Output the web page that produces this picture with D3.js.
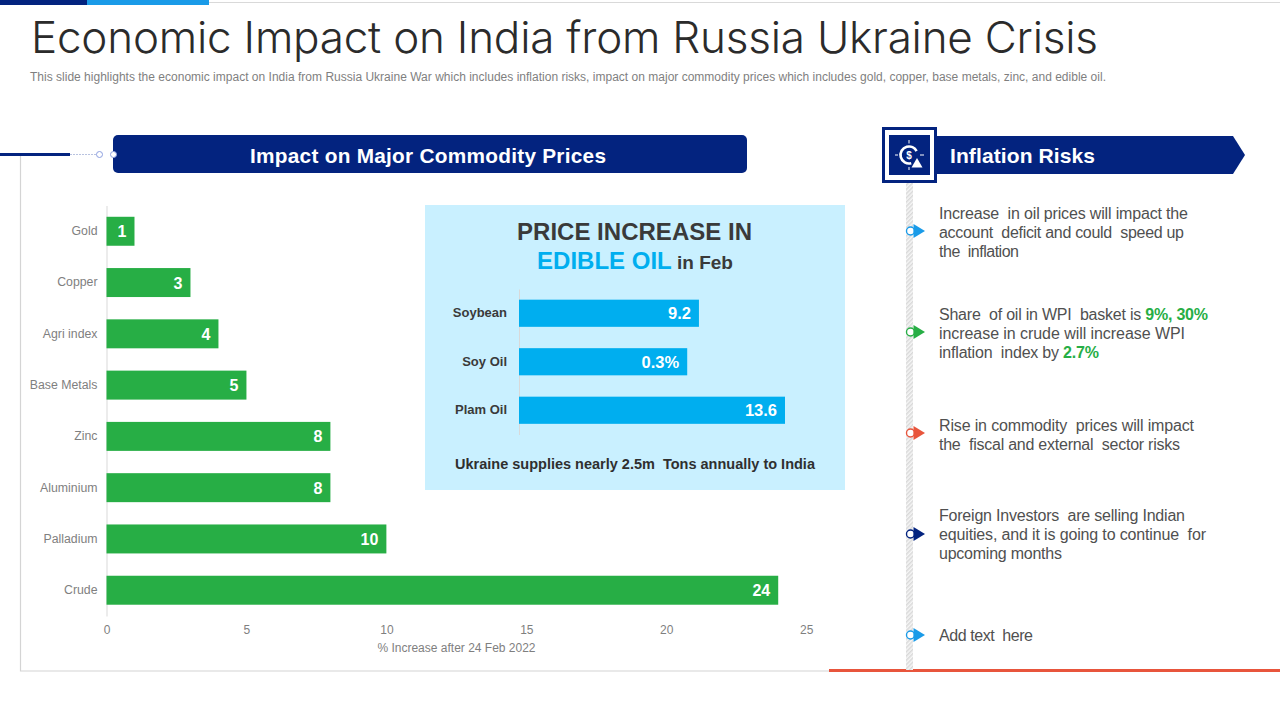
<!DOCTYPE html>
<html>
<head>
<meta charset="utf-8">
<script src="https://cdn.jsdelivr.net/npm/d3@7"></script>
<style>
  html, body { margin: 0; padding: 0; background: #fff; }
  svg { display: block; }
  text { font-family: "Liberation Sans", Arial, sans-serif; }
</style>
</head>
<body>
<svg id="canvas" width="1280" height="720"></svg>
<script>
// data
var commodities = ['Gold', 'Copper', 'Agri index', 'Base Metals', 'Zinc', 'Aluminium', 'Palladium', 'Crude'];
var commodity_values = [1, 3, 4, 5, 8, 8, 10, 24];
var x_ticks = [0, 5, 10, 15, 20, 25];
var oils = ['Soybean', 'Soy Oil', 'Plam Oil'];
var oil_values = [9.2, 8.6, 13.6];
var oil_labels = ['9.2', '0.3%', '13.6'];

var navy = '#03237f', blue = '#1a9be8', green = '#27ae45', red = '#e8553c', sky = '#00aeef';

var svg = d3.select('#canvas');

function addText(x, y, str, size, fill, weight, anchor){
  return svg.append('text').attr('x', x).attr('y', y).attr('font-size', size)
    .attr('fill', fill).attr('font-weight', weight || 400).attr('text-anchor', anchor || 'start').text(str);
}

// ************************************************************************************** //
// Slide furniture

svg.append('rect').attr('x', 0).attr('y', 0).attr('width', 87).attr('height', 5).attr('fill', navy);
svg.append('rect').attr('x', 87).attr('y', 0).attr('width', 122).attr('height', 5).attr('fill', blue);
svg.append('line').attr('x1', 209).attr('x2', 1280).attr('y1', 2.5).attr('y2', 2.5).attr('stroke', '#d9d9d9');

svg.append('text').attr('x', 31).attr('y', 53).attr('font-size', 44).attr('fill', '#2b2b2b')
  .attr('font-weight', 300).style('font-family', 'Inter')
  .attr('textLength', 1067).attr('lengthAdjust', 'spacing')
  .text('Economic Impact on India from Russia Ukraine Crisis');
addText(30, 81, 'This slide highlights the economic impact on India from Russia Ukraine War which includes inflation risks, impact on major commodity prices which includes gold, copper, base metals, zinc, and edible oil.', 12, '#7f7f7f')
  .attr('textLength', 1076).attr('lengthAdjust', 'spacing');

// frame round the left chart
svg.append('path').attr('d', 'M20.5,155V671H829').attr('fill', 'none').attr('stroke', '#d4d4d4').attr('stroke-width', 1.2);
svg.append('rect').attr('x', 829).attr('y', 669).attr('width', 451).attr('height', 3).attr('fill', red);

svg.append('rect').attr('x', 0).attr('y', 153).attr('width', 70).attr('height', 3).attr('fill', navy);
svg.append('line').attr('x1', 70).attr('x2', 96).attr('y1', 154.5).attr('y2', 154.5).attr('stroke', '#b9c3e0').attr('stroke-dasharray', '2,1');
svg.append('circle').attr('cx', 99.5).attr('cy', 154.5).attr('r', 3).attr('fill', '#fff').attr('stroke', '#8d9fe0');

// headers
svg.append('rect').attr('x', 113).attr('y', 135).attr('width', 634).attr('height', 38).attr('rx', 5).attr('fill', navy);
svg.append('circle').attr('cx', 113.5).attr('cy', 154.5).attr('r', 3).attr('fill', '#fff').attr('stroke', '#8d9fe0');
addText(428, 163, 'Impact on Major Commodity Prices', 20.8, '#fff', 700, 'middle')
  .attr('textLength', 356).attr('lengthAdjust', 'spacing');

svg.append('path').attr('d', 'M935,136H1233L1245,155L1233,174H935Z').attr('fill', navy);
addText(950, 163, 'Inflation Risks', 21, '#fff', 700).attr('textLength', 145).attr('lengthAdjust', 'spacing');

// icon box
svg.append('rect').attr('x', 883.5).attr('y', 128.5).attr('width', 52).attr('height', 53).attr('fill', '#fff').attr('stroke', navy).attr('stroke-width', 3);
svg.append('rect').attr('x', 889).attr('y', 135).attr('width', 41).attr('height', 40).attr('fill', navy);
var icon = svg.append('g').attr('transform', 'translate(909,155)');
icon.append('circle').attr('r', 8.5).attr('fill', 'none').attr('stroke', '#fff').attr('stroke-width', 2.6)
  .attr('stroke-dasharray', '38,15').attr('transform', 'rotate(75)');
icon.append('text').attr('y', 3.5).attr('text-anchor', 'middle').attr('font-size', 10).attr('font-weight', 700).attr('fill', '#fff').text('$');
icon.append('path').attr('d', 'M8,3L13.5,12.5H2.5Z').attr('fill', '#fff');
icon.selectAll('.t').data([[0, -15, 0, -11.5], [0, 12, 0, 15], [-14, 0, -11, 0], [11, 0, 15, 0]]).enter().append('line')
  .attr('x1', d => d[0]).attr('y1', d => d[1]).attr('x2', d => d[2]).attr('y2', d => d[3])
  .attr('stroke', '#fff').attr('stroke-width', 1);

// ************************************************************************************** //
// Main bar chart

var x = d3.scaleLinear().domain([0, 25]).range([106.5, 806.2]);
var y = d3.scaleBand().domain(commodities).range([205.5, 616]).paddingInner(0.435).paddingOuter(0.22);

var y_axis = svg.append('g').attr('transform', 'translate(' + x(0) + ',0)')
  .call(d3.axisLeft(y).tickSize(0).tickPadding(9));
y_axis.select('.domain').attr('stroke', '#d9d9d9');
y_axis.selectAll('text').attr('font-size', 12.3).attr('fill', '#7f7f7f').style('font-family', '"Liberation Sans"');

var x_axis = svg.append('g').attr('transform', 'translate(0,616)')
  .call(d3.axisBottom(x).tickValues(x_ticks).tickSize(0).tickPadding(9));
x_axis.select('.domain').remove();
x_axis.selectAll('text').attr('font-size', 12).attr('fill', '#7f7f7f').style('font-family', '"Liberation Sans"');

svg.selectAll('.bar').data(commodities).enter().append('rect').attr('class', 'bar')
  .attr('x', x(0)).attr('y', d => y(d))
  .attr('width', (d, i) => x(commodity_values[i]) - x(0)).attr('height', y.bandwidth())
  .attr('fill', green);
svg.selectAll('.bar-label').data(commodities).enter().append('text').attr('class', 'bar-label')
  .attr('x', (d, i) => x(commodity_values[i]) - 8).attr('y', d => y(d) + y.bandwidth() / 2 + 6)
  .attr('text-anchor', 'end').attr('font-size', 16).attr('font-weight', 700).attr('fill', '#fff')
  .text((d, i) => commodity_values[i]);

addText(456.5, 652, '% Increase after 24 Feb 2022', 12, '#7f7f7f', 400, 'middle');

// ************************************************************************************** //
// Edible oil panel

svg.append('rect').attr('x', 425).attr('y', 205).attr('width', 420).attr('height', 285).attr('fill', '#c9f0ff');

addText(634.5, 240, 'PRICE INCREASE IN', 24, '#3a3a3a', 700, 'middle').attr('textLength', 235).attr('lengthAdjust', 'spacing');
var sub = addText(635, 269, '', 24, sky, 700, 'middle');
sub.append('tspan').text('EDIBLE OIL');
sub.append('tspan').attr('font-size', 19).attr('fill', '#3a3a3a').text(' in Feb');

var oil_x = d3.scaleLinear().domain([0, 13.6]).range([519, 785]);
var oil_y = d3.scaleBand().domain(oils).range([289, 434.5]).paddingInner(0.44).paddingOuter(0.22);

var oil_axis = svg.append('g').attr('transform', 'translate(' + oil_x(0) + ',0)')
  .call(d3.axisLeft(oil_y).tickSize(0).tickPadding(12));
oil_axis.select('.domain').attr('stroke', '#d9d9d9');
oil_axis.selectAll('text').attr('font-size', 13).attr('font-weight', 700).attr('fill', '#3a3a3a').style('font-family', '"Liberation Sans"');

svg.selectAll('.oil-bar').data(oils).enter().append('rect').attr('class', 'oil-bar')
  .attr('x', oil_x(0)).attr('y', d => oil_y(d))
  .attr('width', (d, i) => oil_x(oil_values[i]) - oil_x(0)).attr('height', oil_y.bandwidth())
  .attr('fill', sky);
svg.selectAll('.oil-label').data(oils).enter().append('text').attr('class', 'oil-label')
  .attr('x', (d, i) => oil_x(oil_values[i]) - 8).attr('y', d => oil_y(d) + oil_y.bandwidth() / 2 + 6)
  .attr('text-anchor', 'end').attr('font-size', 16.5).attr('font-weight', 700).attr('fill', '#fff')
  .text((d, i) => oil_labels[i]);

addText(635, 469, 'Ukraine supplies nearly 2.5m  Tons annually to India', 14.5, '#2f2f2f', 700, 'middle').style('white-space', 'pre');

// ************************************************************************************** //
// Inflation risks list

var defs = svg.append('defs');
var hatch = defs.append('pattern').attr('id', 'hatch').attr('width', 3).attr('height', 3)
  .attr('patternUnits', 'userSpaceOnUse').attr('patternTransform', 'rotate(45)');
hatch.append('rect').attr('width', 3).attr('height', 3).attr('fill', '#f6f6f6');
hatch.append('rect').attr('width', 1.5).attr('height', 3).attr('fill', '#d9d9d9');
svg.append('rect').attr('x', 906).attr('y', 183).attr('width', 7).attr('height', 487).attr('fill', 'url(#hatch)');

var risk_colors = [blue, green, red, navy, blue];
var risk_y = [231, 332, 433, 534, 635];
risk_y.forEach(function(cy, i){
  svg.append('circle').attr('cx', 910.5).attr('cy', cy).attr('r', 4).attr('fill', '#fff').attr('stroke', risk_colors[i]).attr('stroke-width', 1.4);
  svg.append('path').attr('d', 'M913.5,' + (cy - 7) + 'L925,' + cy + 'L913.5,' + (cy + 7) + 'Z').attr('fill', risk_colors[i]);
});

var risk_lines = [
  [939, 219, 249, [['Increase  in oil prices will impact the']]],
  [939, 238, 245, [['account  deficit and could  speed up']]],
  [939, 257, 80, [['the  inflation']]],
  [939, 320, 269, [['Share  of oil in WPI  basket is '], ['9%, 30%', green]]],
  [939, 339, 246, [['increase in crude will increase WPI']]],
  [939, 358, 160, [['inflation  index by '], ['2.7%', green]]],
  [939, 431, 255, [['Rise in commodity  prices will impact']]],
  [939, 450, 241, [['the  fiscal and external  sector risks']]],
  [939, 521, 246, [['Foreign Investors  are selling Indian']]],
  [939, 540, 267, [['equities, and it is going to continue  for']]],
  [939, 559, 123, [['upcoming months']]],
  [939, 641, 94, [['Add text  here']]]
];
risk_lines.forEach(function(l){
  var t = svg.append('text').attr('x', l[0]).attr('y', l[1]).attr('font-size', 16).attr('fill', '#505050')
    .attr('textLength', l[2]).attr('lengthAdjust', 'spacing').style('white-space', 'pre');
  l[3].forEach(function(s){
    var span = t.append('tspan').text(s[0]);
    if(s[1]) span.attr('fill', s[1]).attr('font-weight', 700);
  });
});
</script>
</body>
</html>
